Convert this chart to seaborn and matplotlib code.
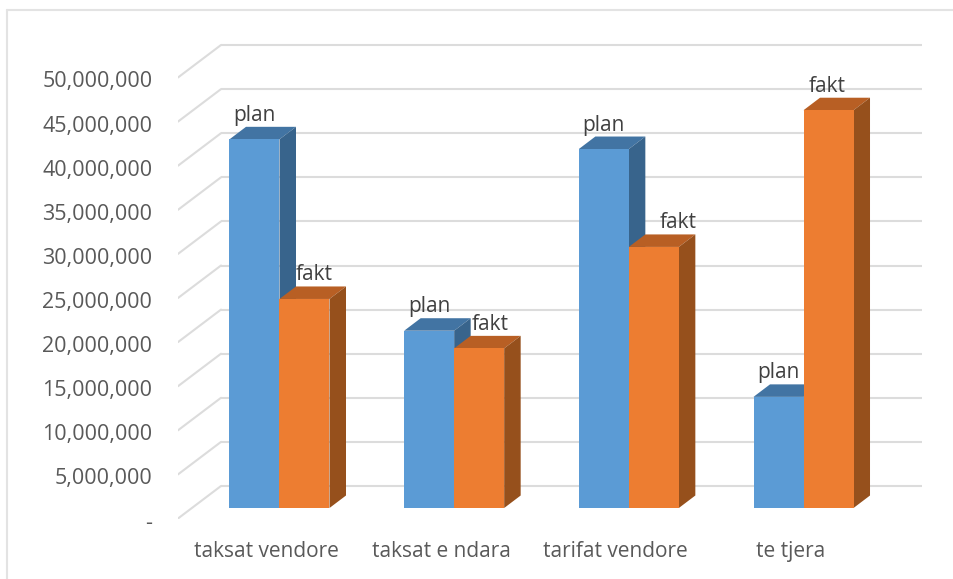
import numpy as np
import pandas as pd
import matplotlib
matplotlib.use('Agg')
import matplotlib.pyplot as plt
from matplotlib.lines import Line2D
from matplotlib.patches import Polygon, Rectangle
from matplotlib.ticker import FuncFormatter
from matplotlib.transforms import ScaledTranslation
import seaborn as sns

categories = ['taksat vendore', 'taksat e ndara', 'tarifat vendore', 'te tjera']
plan = [41800000, 20100000, 40700000, 12600000]
fakt = [23700000, 18100000, 29600000, 45100000]
# label offset in px, excel moved some of them by hand
fakt_shift = [10, 11, 24, -1]

W, H = 954, 579
sns.set_theme(style='white')
plt.rcParams['font.family'] = ['Open Sans', 'DejaVu Sans']

# pixel layout
left, right, top, bottom = 178, 922, 40, 519
base_y = 508
px_per_5m = 44.1
group_step = 174.67
first_group = 279.5
depth_x, depth_y = 16.5, 12.5
wall_x, wall_y = 43, 33


def x_data(px):
    return (px - first_group) / group_step


def y_data(py):
    return (base_y - py) / px_per_5m * 5e6


df = pd.DataFrame({
    'kategori': categories * 2,
    'seria': ['plan'] * 4 + ['fakt'] * 4,
    'vlera': plan + fakt,
})

fig = plt.figure(figsize=(W / 100, H / 100), dpi=100)
ax = fig.add_axes([left / W, 1 - bottom / H, (right - left) / W, (bottom - top) / H])

sns.barplot(data=df, x='kategori', y='vlera', hue='seria', order=categories,
            hue_order=['plan', 'fakt'], palette=['#5B9BD5', '#ED7D31'],
            width=100 / group_step, saturation=1, legend=False, ax=ax,
            zorder=3, edgecolor='none', linewidth=0)

ax.set_xlim(x_data(left), x_data(right))

# back wall and left wall gridlines
ticks = np.arange(0, 50000001, 5000000)
wall_color = '#DCDCDC'
for v in ticks:
    back = v + y_data(486)
    front = v + y_data(518.5)
    ax.plot([x_data(left + wall_x), x_data(right)], [back, back], color=wall_color, lw=1.5, zorder=1, solid_capstyle='butt')
    ax.plot([x_data(left), x_data(left + wall_x)], [front, back], color=wall_color, lw=1.5, zorder=1)
ax.set_ylim(y_data(bottom), y_data(top))

# 3d faces and labels from the bars seaborn drew
dx = depth_x / group_step
dy = depth_y / px_per_5m * 5e6
bars = [p for p in ax.patches if isinstance(p, Rectangle)]
shades = {0: ('#4274A3', '#38648C'), 1: ('#B85F24', '#96501C')}
for i, bar in enumerate(bars):
    s = i // 4
    x0, w, h = bar.get_x(), bar.get_width(), bar.get_height()
    top_face = [(x0, h), (x0 + w, h), (x0 + w + dx, h + dy), (x0 + dx, h + dy)]
    side_face = [(x0 + w, 0), (x0 + w + dx, dy), (x0 + w + dx, h + dy), (x0 + w, h)]
    # plan side sits behind the fakt bar of the same group
    z = 2.5 if s == 0 else 2.8
    bar.set_zorder(3 if s == 0 else 3.2)
    ax.add_patch(Polygon(top_face, closed=True, fc=shades[s][0], ec='none', zorder=z))
    ax.add_patch(Polygon(side_face, closed=True, fc=shades[s][1], ec='none', zorder=z))
    shift = fakt_shift[i % 4] / group_step if s == 1 else 0
    ax.text(x0 + w / 2 + shift, h + 24 / px_per_5m * 5e6, 'plan' if s == 0 else 'fakt',
            ha='center', va='center', fontsize=15, color='#404040', zorder=5)

# y axis labels sit on the front of the left wall, lower than the bar base
ax.set_yticks(ticks)
ax.yaxis.set_major_formatter(FuncFormatter(lambda v, pos: '-' if v == 0 else f'{v:,.0f}'))
ax.tick_params(axis='y', length=0, pad=18.5, labelsize=15.5, labelcolor='#595959')
ax.tick_params(axis='x', length=0, pad=15.5, labelsize=15, labelcolor='#595959')
shift_down = ScaledTranslation(0, -12.5 / 100, fig.dpi_scale_trans)
for lab in ax.get_yticklabels():
    lab.set_transform(lab.get_transform() + shift_down)
shift_left = ScaledTranslation(-13 / 100, 0, fig.dpi_scale_trans)
for lab in ax.get_xticklabels():
    lab.set_transform(lab.get_transform() + shift_left)
ax.set_xlabel('')
ax.set_ylabel('')
for sp in ax.spines.values():
    sp.set_visible(False)
ax.patch.set_alpha(0)

# frame of the pasted chart, only left and top show
frame = '#E3E3E3'
fig.add_artist(Line2D([7 / W, 7 / W], [0, 1 - 9.5 / H], color=frame, lw=1.5))
fig.add_artist(Line2D([7 / W, 1], [1 - 9.5 / H, 1 - 9.5 / H], color=frame, lw=1.5))

fig.savefig('out.png', dpi=100)
